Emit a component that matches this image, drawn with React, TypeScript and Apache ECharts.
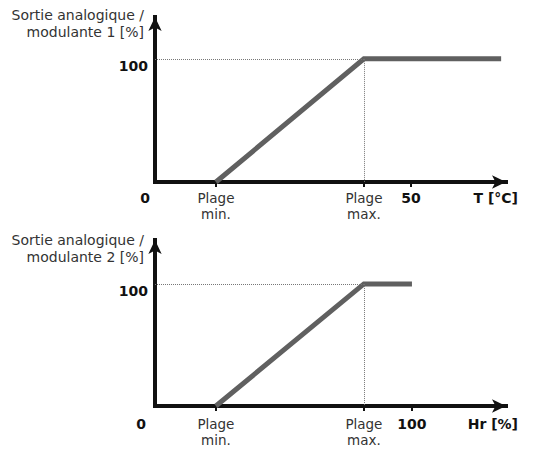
import { useEffect, useRef } from "react";
import * as echarts from "echarts";

const topLineX = [11.9, 40.8, 67.6];
const topLineY = [0, 100, 100];
const topTickValues = [0, 11.9, 40.8, 50];
const topTickLabels = ["0", "Plage\nmin.", "Plage\nmax.", "50"];

const bottomLineX = [23.7, 81.3, 100];
const bottomLineY = [0, 100, 100];
const bottomTickValues = [0, 23.7, 81.3, 100];
const bottomTickLabels = ["0", "Plage\nmin.", "Plage\nmax.", "100"];

const yLabelValues = [100];
const FONT = "DejaVu Sans";

const pair = (xs: number[], ys: number[]) => xs.map((x, i) => [x, ys[i]]);

const buildX = (
  gridIndex: number,
  max: number,
  ticks: number[],
  labels: string[],
  name: string,
  zeroShift: number,
  margin: number,
  namePad: number
) => ({
  type: "value",
  gridIndex,
  min: 0,
  max,
  splitLine: { show: false },
  axisLine: {
    show: true,
    symbol: ["none", "arrow"],
    symbolSize: [10, 14],
    lineStyle: { color: "#111", width: 4, cap: "square" },
  },
  axisTick: {
    show: true,
    customValues: ticks.slice(1),
    length: 5,
    lineStyle: { color: "#111", width: 2 },
  },
  axisLabel: {
    customValues: ticks,
    margin,
    formatter: (v: number) => {
      const i = ticks.findIndex((t) => Math.abs(t - v) < 1e-6);
      if (i < 0) return "";
      if (i === 0) return `{z|${labels[i]}}`;
      if (labels[i].includes("\n")) return `{n|${labels[i]}}`;
      return `{b|${labels[i]}}`;
    },
    rich: {
      z: { fontFamily: FONT, fontWeight: "bold", fontSize: 14, color: "#111", lineHeight: 16, padding: [0, zeroShift * 2, 0, 0] },
      b: { fontFamily: FONT, fontWeight: "bold", fontSize: 14, color: "#111", lineHeight: 16 },
      n: { fontFamily: FONT, fontSize: 13.5, color: "#333", lineHeight: 16 },
    },
  },
  name,
  nameLocation: "end",
  nameGap: 12,
  nameMoveOverlap: false,
  nameTextStyle: {
    fontFamily: FONT,
    fontWeight: "bold",
    fontSize: 14,
    color: "#111",
    align: "right",
    verticalAlign: "top",
    lineHeight: 16,
    padding: [namePad, 0, 0, 0],
  },
});

const buildY = (gridIndex: number, max: number, name: string, gap: number) => ({
  type: "value",
  gridIndex,
  min: 0,
  max,
  splitLine: { show: false },
  axisLine: {
    show: true,
    symbol: ["none", "arrow"],
    symbolSize: [10, 14],
    lineStyle: { color: "#111", width: 4, cap: "square" },
  },
  axisTick: { show: false },
  axisLabel: {
    customValues: yLabelValues,
    margin: 7,
    formatter: (v: number) => `{b|${v}}`,
    rich: {
      b: { fontFamily: FONT, fontWeight: "bold", fontSize: 14, color: "#111", lineHeight: 16, padding: [14, 0, 0, 0] },
    },
  },
  name,
  nameLocation: "end",
  nameGap: gap,
  nameMoveOverlap: false,
  nameTextStyle: {
    fontFamily: FONT,
    fontSize: 14,
    color: "#333",
    align: "right",
    verticalAlign: "middle",
    lineHeight: 17,
    padding: [0, 11, 0, 0],
  },
});

const buildSeries = (index: number, xs: number[], ys: number[]) => ({
  type: "line",
  xAxisIndex: index,
  yAxisIndex: index,
  data: pair(xs, ys),
  showSymbol: false,
  symbol: "none",
  lineStyle: { color: "#606060", width: 5, cap: "butt", join: "miter" },
  markLine: {
    silent: true,
    symbol: "none",
    label: { show: false },
    lineStyle: { color: "#777", width: 1, type: "dotted" },
    data: [
      [{ coord: [0, ys[1]] }, { coord: [xs[1], ys[1]] }],
      [{ coord: [xs[1], ys[1]] }, { coord: [xs[1], 0] }],
    ],
  },
});

export default function App() {
  const ref = useRef<HTMLDivElement | null>(null);

  useEffect(() => {
    document.body.style.margin = "0";
    if (!ref.current) return;
    const chart = echarts.init(ref.current, undefined, { renderer: "svg" });
    chart.setOption({
      animation: false,
      backgroundColor: "#fff",
      grid: [
        { left: 155, top: 17, width: 351, height: 165, outerBoundsMode: "none" },
        { left: 155, top: 240, width: 351, height: 166, outerBoundsMode: "none" },
      ],
      xAxis: [
        buildX(0, 68.55, topTickValues, topTickLabels, "T [°C]", 10, 8, 8),
        buildX(1, 136.6, bottomTickValues, bottomTickLabels, "Hr [%]", 14, 10, 10),
      ],
      yAxis: [
        buildY(0, 134, "Sortie analogique /\nmodulante 1 [%]", -6.5),
        buildY(1, 136, "Sortie analogique /\nmodulante 2 [%]", -8.5),
      ],
      series: [buildSeries(0, topLineX, topLineY), buildSeries(1, bottomLineX, bottomLineY)],
    });
    return () => chart.dispose();
  }, []);

  return <div ref={ref} style={{ width: 555, height: 463 }} />;
}
